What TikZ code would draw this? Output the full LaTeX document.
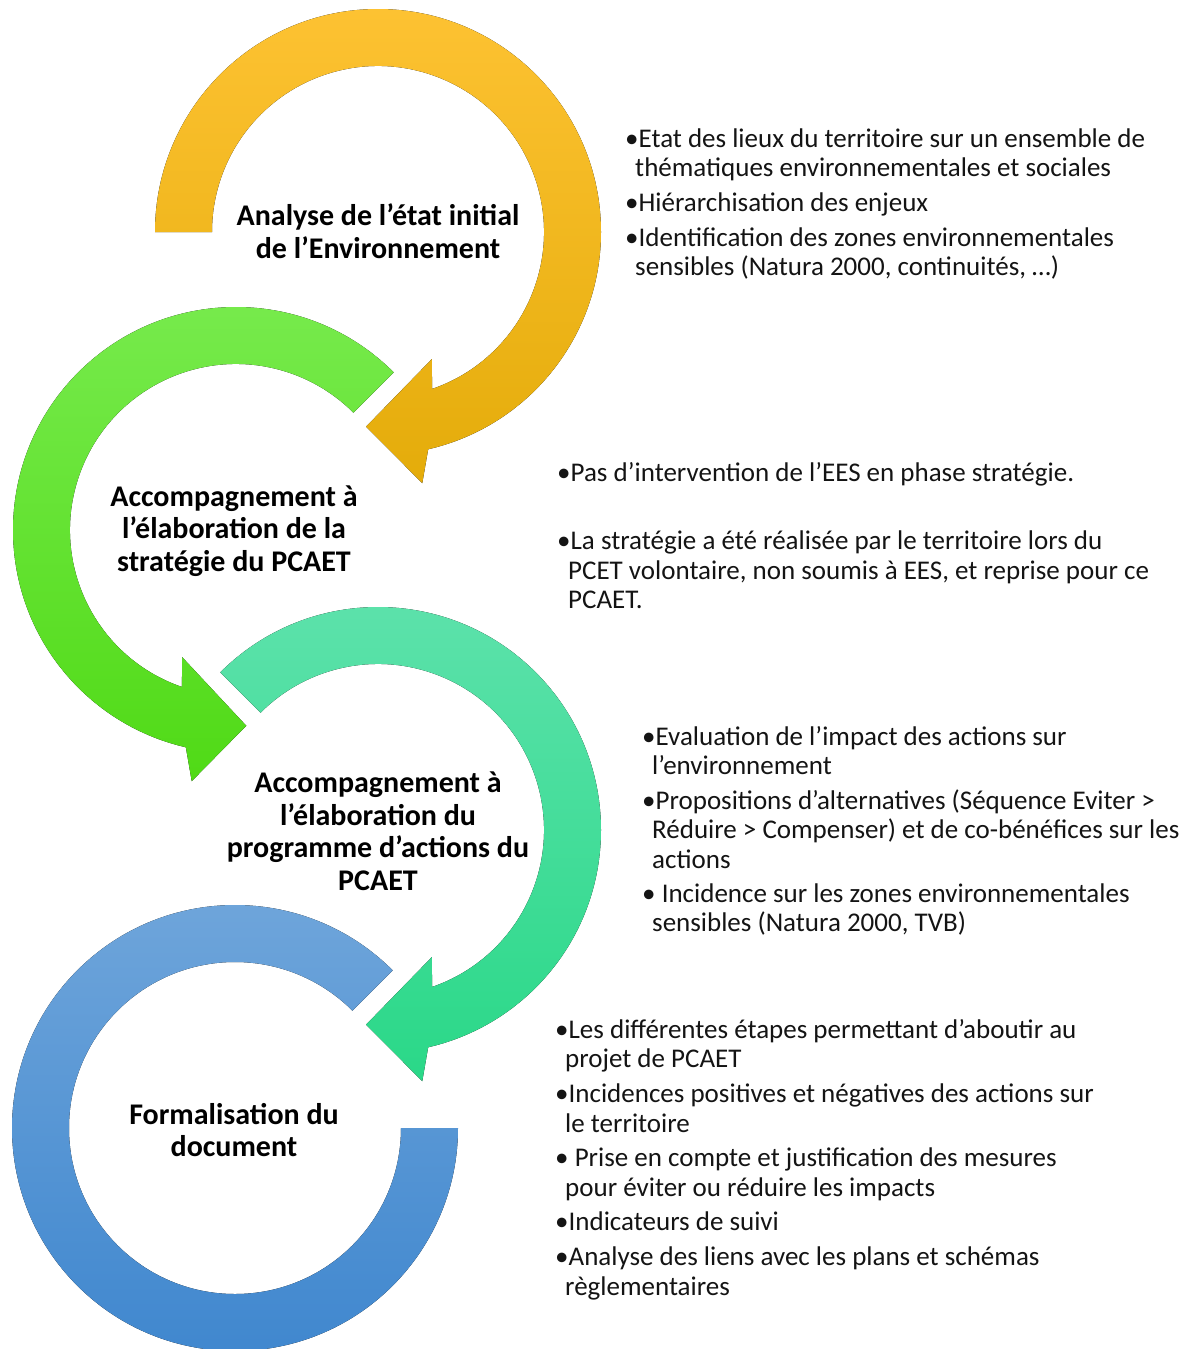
\documentclass[tikz,border=0pt]{standalone}
\usepackage{fontspec}
\setmainfont{Carlito}
\usetikzlibrary{calc}
\definecolor{yellowT}{RGB}{253,194,50}
\definecolor{yellowB}{RGB}{228,172,10}
\definecolor{greenT}{RGB}{120,235,78}
\definecolor{greenB}{RGB}{80,218,22}
\definecolor{tealT}{RGB}{94,226,172}
\definecolor{tealB}{RGB}{42,216,136}
\definecolor{blueT}{RGB}{112,166,219}
\definecolor{blueB}{RGB}{62,134,206}
\definecolor{txt}{RGB}{20,20,20}
\tikzset{
  titletxt/.style={font=\fontsize{30}{32.5}\selectfont\bfseries, align=center, text=black, inner sep=0pt},
  bodytxt/.style={font=\fontsize{27}{29}\selectfont, text=txt, inner sep=0pt, anchor=base west},
}
\newcommand\bodyline[4]{\node[bodytxt] (#1) at (#2,-#3) {#4};}
\begin{document}
\begin{tikzpicture}[x=1pt,y=1pt]
\fill[white] (0,0) rectangle (1189,-1349);
\useasboundingbox (0,0) rectangle (1189,-1349);
\coordinate (cY) at (378,-232);
\coordinate (cG) at (236,-530);
\coordinate (cT) at (378,-830);
\coordinate (cB) at (235,-1128);
% blue ring
\fill[top color=blueT, bottom color=blueB]
  ($(cB)+(45:223)$) arc[start angle=45, end angle=360, radius=223]
  -- ($(cB)+(0:166)$) arc[start angle=360, end angle=45, radius=166] -- cycle;
% teal arrow
\fill[top color=tealT, bottom color=tealB]
  ($(cT)+(135:223)$) arc[start angle=135, end angle=-77, radius=223]
  -- ($(cT)+(-80:255)$) -- ($(cT)+(-93.5:195)$) -- ($(cT)+(-67:138)$)
  -- ($(cT)+(-71:166)$) arc[start angle=-71, end angle=135, radius=166] -- cycle;
% green arrow
\fill[top color=greenT, bottom color=greenB]
  ($(cG)+(45:223)$) arc[start angle=45, end angle=257, radius=223]
  -- ($(cG)+(260:255)$) -- ($(cG)+(273:196)$) -- ($(cG)+(247:138)$)
  -- ($(cG)+(251:166)$) arc[start angle=251, end angle=45, radius=166] -- cycle;
% yellow arrow
\fill[top color=yellowT, bottom color=yellowB]
  ($(cY)+(180:223)$) arc[start angle=180, end angle=-77, radius=223]
  -- ($(cY)+(-80:255)$) -- ($(cY)+(-93.5:195)$) -- ($(cY)+(-67:138)$)
  -- ($(cY)+(-71:166)$) arc[start angle=-71, end angle=180, radius=166] -- cycle;
% titles
\node[titletxt] (t1) at (378,-231) {Analyse de l’état initial\\de l’Environnement};
\node[titletxt] (t2) at (234,-531) {Accompagnement à\\l’élaboration de la\\stratégie du PCAET};
\node[titletxt] (t3) at (378,-831) {Accompagnement à\\l’élaboration du\\programme d’actions du\\PCAET};
\node[titletxt] (t4) at (234,-1130) {Formalisation du\\document};
% block 1
\bodyline{a1}{625}{147}{•Etat des lieux du territoire sur un ensemble de}
\bodyline{a2}{635}{176}{thématiques environnementales et sociales}
\bodyline{a3}{625}{211}{•Hiérarchisation des enjeux}
\bodyline{a4}{625}{246}{•Identification des zones environnementales}
\bodyline{a5}{635}{275}{sensibles (Natura 2000, continuités, …)}
% block 2
\bodyline{b1}{557}{481}{•Pas d’intervention de l’EES en phase stratégie.}
\bodyline{b2}{557}{549}{•La stratégie a été réalisée par le territoire lors du}
\bodyline{b3}{568}{579}{PCET volontaire, non soumis à EES, et reprise pour ce}
\bodyline{b4}{568}{608}{PCAET.}
% block 3
\bodyline{c1}{642}{745}{•Evaluation de l’impact des actions sur}
\bodyline{c2}{652}{774}{l’environnement}
\bodyline{c3}{642}{809}{•Propositions d’alternatives (Séquence Eviter >}
\bodyline{c4}{652}{838}{Réduire > Compenser) et de co-bénéfices sur les}
\bodyline{c5}{652}{868}{actions}
\bodyline{c6}{642}{902}{• Incidence sur les zones environnementales}
\bodyline{c7}{652}{931}{sensibles (Natura 2000, TVB)}
% block 4
\bodyline{d1}{555}{1038}{•Les différentes étapes permettant d’aboutir au}
\bodyline{d2}{565}{1067}{projet de PCAET}
\bodyline{d3}{555}{1102}{•Incidences positives et négatives des actions sur}
\bodyline{d4}{565}{1132}{le territoire}
\bodyline{d5}{555}{1166}{• Prise en compte et justification des mesures}
\bodyline{d6}{565}{1196}{pour éviter ou réduire les impacts}
\bodyline{d7}{555}{1230}{•Indicateurs de suivi}
\bodyline{d8}{555}{1265}{•Analyse des liens avec les plans et schémas}
\bodyline{d9}{565}{1295}{règlementaires}
\end{tikzpicture}
\end{document}
